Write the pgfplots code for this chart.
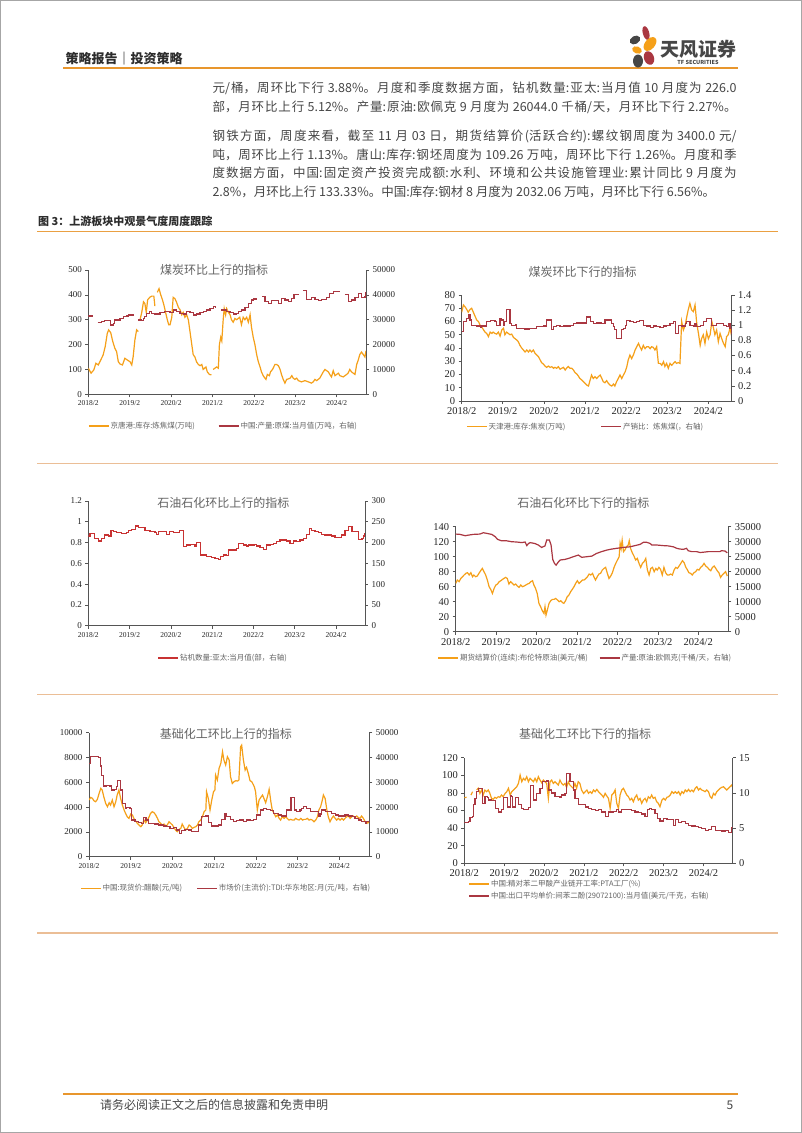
\documentclass[border=0pt]{standalone}
\usepackage{fontspec}
\usepackage{pgfplots}
\pgfplotsset{compat=1.18}
\setmainfont{Liberation Serif}
\newfontfamily\cjk{Noto Sans CJK SC}

\definecolor{cOrange}{RGB}{245,160,25}
\definecolor{cMaroon}{RGB}{170,55,65}
\definecolor{cRed}{RGB}{200,50,50}
\definecolor{cAxis}{RGB}{85,85,85}
\definecolor{cTitle}{RGB}{100,100,100}
\definecolor{cText}{RGB}{70,70,70}
\definecolor{cHead}{RGB}{45,45,45}
\definecolor{cLine}{RGB}{232,150,45}
\definecolor{cSep}{RGB}{235,190,150}
\definecolor{cLogoGray}{RGB}{70,70,70}

\newcommand\legfont{\cjk\fontsize{7.5}{8}\selectfont\color{cTitle}}
\newcommand\titlefont{\cjk\fontsize{12}{14}\selectfont}
% one justified line of body text
\newcommand\bodyline[2]{\node[anchor=west, inner sep=0pt] at (212.3pt,#1) {\parbox{524pt}{%
  \cjk\fontsize{12.5}{15}\selectfont\color{cText}%
  \XeTeXlinebreaklocale "zh"\XeTeXlinebreakskip=0pt plus 2pt minus 0.3pt\relax
  \parfillskip=0pt\relax\noindent #2\par}};}
\newcommand\bodylast[2]{\node[anchor=west, inner sep=0pt] at (212.3pt,#1) {\parbox{524pt}{%
  \cjk\fontsize{12.5}{15}\selectfont\color{cText}\noindent #2\par}};}

\pgfplotsset{
  base/.style={scale only axis, anchor=south west, xmin=0,
    axis line style={cAxis, line width=0.9pt},
    tick style={cAxis, line width=0.7pt},
    major tick length=3pt, tick align=outside,
    scaled ticks=false,
    /pgf/number format/assume math mode=true,
    /pgf/number format/1000 sep={},
    ticklabel style={text=black!85},
    unbounded coords=jump},
  lax/.style={base, axis x line*=bottom, axis y line*=left,
    xtick={0,12,24,36,48,60,72},
    xticklabels={2018/2,2019/2,2020/2,2021/2,2022/2,2023/2,2024/2},
    legend style={draw=none, fill=none, font=\legfont, inner sep=0pt,
      nodes={inner sep=1pt}},
    legend cell align=left,
    legend image code/.code={\draw[##1, line width=1.6pt] (0pt,0pt) -- (20pt,0pt);}},
  rax/.style={base, axis x line=none, axis y line*=right},
  small/.style={yticklabel style={font=\fontsize{9}{10}\selectfont},
    xticklabel style={font=\fontsize{7.5}{8}\selectfont}},
  big/.style={ticklabel style={font=\fontsize{10.5}{11}\selectfont}},
  ser/.style={line width=1.2pt},
}

\begin{document}
\begin{tikzpicture}
\useasboundingbox (0pt,0pt) rectangle (802pt,-1133pt);
\fill[white] (0pt,0pt) rectangle (802pt,-1133pt);
\draw[gray!70, line width=1pt] (0.5pt,-0.5pt) rectangle (801.5pt,-1132.5pt);

% header
\node[anchor=west, inner sep=0pt, font=\cjk\bfseries\fontsize{13}{15}\selectfont, text=cHead] at (65.5pt,-58.3pt) {策略报告｜投资策略};
\draw[cLine, line width=2pt] (63pt,-68.3pt) -- (738pt,-68.3pt);
% logo
\fill[cMaroon, rotate around={15:(646pt,-33pt)}] (646pt,-33pt) ellipse (3.2pt and 7pt);
\fill[cOrange, rotate around={-40:(650pt,-44pt)}] (650pt,-44pt) ellipse (5pt and 8pt);
\fill[cLogoGray, rotate around={30:(635pt,-40pt)}] (635pt,-40pt) ellipse (5.5pt and 4pt);
\fill[cOrange, rotate around={-20:(637pt,-50pt)}] (637pt,-50pt) ellipse (5pt and 3.5pt);
\fill[cLogoGray] (638pt,-61pt) ellipse (5pt and 6.5pt);
\fill[cMaroon, rotate around={20:(649pt,-58pt)}] (649pt,-58pt) ellipse (5pt and 7pt);
\node[inner sep=0pt, font=\cjk\bfseries\fontsize{19}{20}\selectfont, text=cLogoGray] at (698.5pt,-49pt) {天风证券};
\node[inner sep=0pt, font=\cjk\bfseries\fontsize{5.5}{6}\selectfont, text=cLogoGray] at (698pt,-62.5pt) {TF SECURITIES};

% body text
\bodyline{-88.3pt}{元/桶，周环比下行 3.88\%。月度和季度数据方面，钻机数量:亚太:当月值 10 月度为 226.0}
\bodyline{-107.3pt}{部，月环比上行 5.12\%。产量:原油:欧佩克 9 月度为 26044.0 千桶/天，月环比下行 2.27\%。}
\bodyline{-136pt}{钢铁方面，周度来看，截至 11 月 03 日，期货结算价(活跃合约):螺纹钢周度为 3400.0 元/}
\bodyline{-155pt}{吨，周环比上行 1.13\%。唐山:库存:钢坯周度为 109.26 万吨，周环比下行 1.26\%。月度和季}
\bodyline{-173.3pt}{度数据方面，中国:固定资产投资完成额:水利、环境和公共设施管理业:累计同比 9 月度为}
\bodylast{-192.3pt}{2.8\%，月环比上行 133.33\%。中国:库存:钢材 8 月度为 2032.06 万吨，月环比下行 6.56\%。}

% caption and separators
\node[anchor=west, inner sep=0pt, font=\cjk\bfseries\fontsize{11}{12}\selectfont, text=cHead] at (38pt,-221.7pt) {图 3：上游板块中观景气度周度跟踪};
\draw[cLine!90, line width=1.5pt] (37pt,-231.7pt) -- (778pt,-231.7pt);
\draw[cSep, line width=1.5pt] (37pt,-463.3pt) -- (778pt,-463.3pt);
\draw[cSep, line width=1.5pt] (37pt,-694.3pt) -- (778pt,-694.3pt);
\draw[cSep, line width=1.5pt] (37pt,-933pt) -- (778pt,-933pt);

% footer
\draw[cLine, line width=2pt] (63pt,-1094.3pt) -- (738pt,-1094.3pt);
\node[anchor=west, inner sep=0pt, font=\cjk\fontsize{12}{14}\selectfont, text=cText] at (100pt,-1105pt) {请务必阅读正文之后的信息披露和免责申明};
\node[inner sep=0pt, font=\cjk\fontsize{12}{14}\selectfont, text=cText] at (730pt,-1105pt) {5};

% titles
\node[font=\titlefont, text=cTitle] at (214pt,-270pt) {煤炭环比上行的指标};
\node[font=\titlefont, text=cTitle] at (582.5pt,-271.7pt) {煤炭环比下行的指标};
\node[font=\titlefont, text=cTitle] at (223.3pt,-502.7pt) {石油石化环比上行的指标};
\node[font=\titlefont, text=cTitle] at (583.3pt,-503.3pt) {石油石化环比下行的指标};
\node[font=\titlefont, text=cTitle] at (225.8pt,-734pt) {基础化工环比上行的指标};
\node[font=\titlefont, text=cTitle] at (585pt,-734pt) {基础化工环比下行的指标};

%================ chart 1
\begin{axis}[lax, small, at={(88.3pt,-394.3pt)}, width=277.7pt, height=124.3pt,
  xmax=80.5, ymin=0, ymax=500, ytick={0,100,200,300,400,500},
  legend columns=2, legend style={at={(axis description cs:0.485,-0.253)}, anchor=center,
    /tikz/every even column/.append style={column sep=22pt}}]
\addplot[cOrange, ser] coordinates {
(0,105)(0.8,85)(1.6,98)(2.2,125)(2.9,118)(3.6,138)(4.3,158)(4.9,192)(5.5,245)(5.9,259)(6.5,248)(7.1,212)(7.7,185)(8.2,172)(8.7,131)(9.2,122)(9.9,118)(10.6,145)(11.3,138)(12.1,131)(12.6,118)(13.0,151)(13.5,218)(14.0,259)(14.5,252)(14.7,nan)
(15.0,300)(15.5,330)(16.0,372)(16.4,365)(16.8,330)(17.2,380)(17.8,390)(18.4,395)(19.0,395)(19.3,355)(19.6,nan)
(20.0,410)(20.5,425)(21.0,400)(21.5,380)(21.9,360)(22.4,330)(22.9,300)(23.3,280)(23.7,280)(24.2,310)(24.6,390)(25.1,385)(25.6,370)(26.1,350)(26.6,340)(27.1,320)(27.5,330)(28.0,310)(28.5,320)(29.0,300)(29.5,250)(30.0,200)(30.4,160)(30.9,150)(31.4,130)(31.9,120)(32.4,115)(32.9,120)(33.3,100)(34.1,110)(34.5,90)(35.1,80)(35.7,78)(36.0,nan)
(36.2,100)(37.2,110)(37.7,105)(38.0,200)(38.4,230)(38.7,215)(39.1,300)(39.4,345)(39.8,320)(40.1,345)(40.6,330)(41.1,320)(41.5,300)(42.0,290)(42.5,305)(43.0,300)(43.9,310)(44.4,280)(44.9,310)(45.4,300)(45.9,310)(46.4,290)(46.9,320)(47.3,270)(47.8,230)(48.3,200)(48.8,160)(49.3,130)(49.8,110)(50.2,90)(50.7,75)(51.2,65)(51.5,60)(51.9,80)(52.5,75)(52.8,90)(53.4,100)(54.1,120)(54.6,120)(55.1,115)(55.6,100)(56.0,80)(56.5,60)(57.0,45)(57.5,60)(58.0,62)(58.5,65)(59.0,75)(59.4,65)(59.9,60)(60.4,65)(60.9,55)(61.8,50)(62.8,55)(63.8,50)(64.7,45)(65.2,50)(65.7,60)(66.2,55)(67.1,65)(68.1,90)(68.6,100)(69.1,95)(69.6,90)(70.0,80)(70.5,70)(71.0,95)(71.5,75)(72.5,85)(72.9,75)(73.9,70)(74.9,80)(75.3,85)(75.8,100)(76.3,90)(76.8,85)(77.3,80)(77.8,120)(78.3,140)(78.7,160)(79.2,170)(79.7,160)(80.2,150)(80.5,175)};
\addlegendentry{京唐港:库存:炼焦煤(万吨)}
\addlegendimage{cMaroon}
\addlegendentry{中国:产量:原煤:当月值(万吨，右轴)}
\end{axis}
\begin{axis}[rax, small, at={(88.3pt,-394.3pt)}, width=277.7pt, height=124.3pt,
  xmax=80.5, ymin=0, ymax=50000, ytick={0,10000,20000,30000,40000,50000}]
\addplot[cMaroon, ser, const plot] coordinates {
(0,31500)(1.3,31500)(1.5,nan)(2.7,29000)(3.9,29200)(4.8,29600)(6.1,29600)(6.5,27900)(7.2,28500)(7.7,29900)(9.2,30500)(10.1,31200)(11.1,31500)(11.6,31900)(13.0,32200)(13.5,nan)(14.5,29900)(15.5,29600)(15.9,30500)(16.4,31200)(16.9,32600)(17.7,33200)(18.4,32600)(19.3,32300)(20.8,32800)(22.2,33200)(23.7,33000)(24.6,33900)(25.6,33200)(26.6,32600)(27.5,32300)(28.5,33200)(29.5,33000)(30.4,31900)(31.4,32300)(32.4,32800)(33.3,33200)(34.3,33900)(35.3,34600)(36.2,35200)(36.9,35000)(37.5,nan)(38.6,33900)(40.1,33200)(41.1,33000)(42.0,32300)(43.0,32600)(43.5,33200)(44.4,33900)(45.4,35000)(46.4,36600)(47.3,37900)(48.0,38300)(49.0,38300)(49.5,nan)(50.4,39500)(51.2,37300)(52.2,36600)(53.1,37700)(54.1,37600)(55.1,36600)(56.0,38600)(57.0,37900)(58.0,37300)(58.9,38600)(59.6,40000)(60.4,40200)(61.2,40200)(61.6,nan)(62.3,41700)(63.3,38200)(64.7,38900)(65.7,38200)(66.7,37700)(67.6,38200)(69.1,38900)(70.0,40600)(71.0,41300)(72.9,41300)(73.5,nan)(74.4,40300)(75.4,37300)(76.3,37900)(77.3,39000)(78.3,40600)(79.2,39000)(80.2,39200)(80.5,41300)};
\end{axis}

%================ chart 2
\begin{axis}[lax, big, at={(461.7pt,-401pt)}, width=270pt, height=106pt,
  xmax=78.8, ymin=0, ymax=80, ytick={0,10,20,30,40,50,60,70,80},
  legend columns=2, legend style={at={(axis description cs:0.457,-0.242)}, anchor=center,
    /tikz/every even column/.append style={column sep=34pt}}]
\addplot[cOrange, ser] coordinates {
(0,67)(0.5,72.5)(1.0,71)(1.5,69)(1.9,67)(2.4,69)(2.9,70)(3.4,67)(3.9,64)(4.4,61)(4.9,60)(5.4,57)(5.8,56)(6.3,54)(6.8,52)(7.3,51)(7.8,48.6)(8.3,52)(8.8,51)(9.2,52)(9.7,51)(10.2,50.5)(10.7,52)(11.2,49)(11.7,53.6)(12.2,55)(12.6,50)(13.1,52)(13.6,51)(14.1,50)(14.6,50.5)(15.1,48)(15.6,47)(16.1,46)(16.5,44.8)(17.0,42)(17.5,40)(18.0,38.5)(18.5,37)(19.0,38.5)(19.5,37)(19.9,38.5)(20.4,37)(20.9,38.5)(21.4,36)(21.9,34.7)(22.4,33.5)(22.9,31)(23.3,29)(23.8,28)(24.3,26.4)(24.8,25.4)(25.3,26.4)(25.8,25.4)(26.3,25.9)(26.8,24.7)(27.2,25.4)(27.7,24.7)(28.2,25.9)(28.7,24)(29.2,24.7)(29.7,25.4)(30.2,23.4)(30.6,24.7)(31.1,26)(31.6,24.7)(32.1,24.7)(32.6,23.4)(33.1,21.4)(33.6,20.4)(34.0,19)(34.5,17)(35.0,16)(35.5,14.6)(36.0,13.3)(36.5,12)(37.0,11.3)(37.5,16)(37.9,19.6)(38.4,17)(38.9,18.4)(39.4,17)(39.9,18.4)(40.4,19.6)(40.9,17)(41.3,14.6)(41.8,13.8)(42.3,15.4)(42.8,13.3)(43.3,12)(43.8,11.3)(44.3,12.8)(44.7,11.3)(45.2,14.6)(45.7,17)(46.2,19.6)(46.7,17)(47.2,19.6)(47.7,22)(48.2,26)(48.6,31)(49.1,34.7)(49.6,32)(50.1,34.7)(50.6,38.5)(51.1,41)(51.6,43.5)(52.0,41)(52.5,38.5)(53.0,42)(53.5,39.5)(54.0,41)(54.5,41)(55.0,39.5)(55.4,41)(55.9,40.5)(56.4,38.5)(56.9,41)(57.4,28.4)(57.9,28.4)(58.4,27)(58.9,29.7)(59.3,26)(59.8,28.4)(60.3,24.7)(60.8,28.4)(61.3,27)(61.8,28.4)(62.3,29.7)(62.7,28.4)(63.2,29)(63.7,28.4)(64.2,60)(64.7,53.6)(65.2,57)(65.7,63.7)(66.1,68.7)(66.6,73.7)(67.1,68.7)(67.6,67.4)(68.1,72.5)(68.6,58.6)(69.1,51)(69.6,42)(70.0,47)(70.5,50)(71.0,43.5)(71.5,52)(72.0,47)(72.5,50)(73.0,60)(73.4,56)(73.9,50)(74.4,53.6)(74.9,44.8)(75.4,51)(75.9,47)(76.4,43.5)(76.9,41)(77.3,48.6)(77.8,50)(78.3,55)(78.8,48.6)};
\addlegendentry{天津港:库存:焦炭(万吨)}
\addlegendimage{cMaroon}
\addlegendentry{产销比：炼焦煤(，右轴)}
\end{axis}
\begin{axis}[rax, big, at={(461.7pt,-401pt)}, width=270pt, height=106pt,
  xmax=78.8, ymin=0, ymax=1.4, ytick={0,0.2,0.4,0.6,0.8,1,1.2,1.4}]
\addplot[cMaroon, ser, const plot] coordinates {
(0,0.915)(0.5,1.05)(1.5,1.09)(1.9,1.14)(2.4,1.07)(2.9,1.0)(4.4,0.99)(5.4,0.97)(5.8,0.99)(6.8,0.98)(7.3,1.05)(8.3,1.06)(9.7,1.05)(10.2,1.0)(11.2,1.09)(11.7,1.07)(12.2,1.0)(12.6,1.05)(13.1,1.21)(13.9,1.21)(14.1,1.02)(14.6,1.0)(15.6,1.01)(16.1,0.96)(18.5,0.95)(19.9,0.96)(21.9,0.98)(23.8,0.99)(24.8,1.07)(25.8,1.07)(26.3,0.94)(26.8,0.98)(27.7,1.0)(28.7,0.98)(29.7,0.99)(30.6,0.99)(31.6,1.0)(32.6,1.02)(33.6,1.03)(34.5,1.03)(36.5,1.11)(37.5,1.05)(38.4,1.02)(39.4,1.03)(40.9,1.02)(41.8,1.07)(43.3,1.08)(43.8,1.02)(44.3,0.98)(44.7,0.94)(45.2,0.83)(46.2,0.83)(46.7,0.94)(47.2,0.96)(47.7,1.0)(48.2,1.06)(49.1,1.05)(50.1,1.04)(51.1,1.05)(52.0,1.06)(53.0,1.0)(54.0,0.99)(55.0,0.97)(55.9,0.99)(56.9,0.98)(57.9,0.97)(58.9,0.99)(59.8,1.0)(60.8,1.02)(61.8,1.05)(62.3,0.89)(62.7,0.89)(63.2,1.0)(64.2,0.99)(65.2,1.02)(65.7,1.05)(66.6,1.0)(67.6,0.98)(68.1,1.02)(68.6,0.98)(69.6,1.0)(70.5,1.05)(71.5,1.09)(72.5,1.09)(73.0,1.0)(74.4,1.02)(75.4,1.02)(76.4,1.0)(77.3,0.98)(77.8,1.02)(78.3,0.96)(78.8,0.89)};
\end{axis}

%================ chart 3
\begin{axis}[lax, small, at={(88.3pt,-625.7pt)}, width=276.7pt, height=124.7pt,
  xmax=80.4, ymin=0, ymax=1.2, ytick={0,0.2,0.4,0.6,0.8,1,1.2},
  legend style={at={(axis description cs:0.486,-0.257)}, anchor=center}]
\addlegendimage{cRed}
\addlegendentry{钻机数量:亚太:当月值(部，右轴)}
\end{axis}
\begin{axis}[rax, small, at={(88.3pt,-625.7pt)}, width=276.7pt, height=124.7pt,
  xmax=80.4, ymin=0, ymax=300, ytick={0,50,100,150,200,250,300}]
\addplot[cRed, ser, const plot] coordinates {
(0,216)(0.5,222)(1.5,222)(1.9,210)(2.9,204)(3.9,210)(4.6,218)(5.8,216)(6.6,228.6)(7.3,226)(8.2,224)(9.7,222)(11.1,224)(11.6,230)(12.6,232)(13.6,240)(14.5,237)(15.5,237)(16.5,228.6)(17.9,226)(19.4,224)(19.9,220)(20.3,226)(21.8,226)(22.8,220)(23.7,226)(24.7,224)(25.7,224)(26.6,230)(27.4,230)(27.6,190)(28.6,194)(29.6,196)(30.5,196)(31.0,192)(31.5,200)(32.0,200)(32.5,170)(33.4,170)(34.4,166)(35.9,164)(36.8,162)(37.8,160)(38.3,166)(39.2,170)(40.2,168)(40.7,182)(42.2,182)(43.1,186)(43.6,198)(45.1,194)(46.0,192)(46.5,194)(47.5,194)(48.4,196)(48.9,192)(49.9,188)(50.9,184)(51.8,194)(52.8,196)(53.8,198)(54.7,202)(55.7,206)(56.7,206)(57.7,204)(58.6,198)(59.6,204)(60.6,202)(61.5,206)(62.5,210)(63.5,220)(64.2,234)(64.9,230)(65.9,226)(66.9,224)(67.8,220)(68.8,218)(69.8,218)(70.7,216)(71.7,212)(72.7,212)(73.6,218)(74.6,228.6)(75.6,238)(76.6,226)(77.5,226)(78.5,208)(79.5,210)(79.9,216)(80.4,222)};
\end{axis}

%================ chart 4
\begin{axis}[lax, big, at={(455.7pt,-631.7pt)}, width=272.6pt, height=105pt,
  xmax=80.9, ymin=0, ymax=140, ytick={0,20,40,60,80,100,120,140},
  legend columns=2, legend style={at={(axis description cs:0.474,-0.25)}, anchor=center,
    /tikz/every even column/.append style={column sep=10pt}}]
\addplot[cOrange, ser] coordinates {
(0,64.4)(0.5,68.9)(1.0,66.7)(1.5,71)(2.0,73.3)(2.5,75.6)(3.0,77.8)(3.5,78.7)(4.0,75.6)(4.5,78.7)(5.0,73.3)(5.4,75.6)(5.9,73.3)(6.4,74.2)(6.9,77.8)(7.4,81.3)(7.9,84.4)(8.4,80)(8.9,75.6)(9.4,68.9)(9.9,60)(10.4,56.4)(10.9,51)(11.4,57.8)(11.9,62.2)(12.4,63.6)(12.9,66.7)(13.4,68)(13.9,69.8)(14.3,71)(14.8,72.4)(15.3,71)(15.8,63.6)(16.3,66.7)(16.8,64.4)(17.3,62.2)(17.8,63.6)(18.3,60.9)(18.8,59.1)(19.3,62.2)(19.8,60)(20.3,60.9)(20.8,62.2)(21.3,63.6)(21.8,64.4)(22.3,66.7)(22.8,68)(23.2,62.2)(23.7,57.8)(24.2,51)(24.7,37.8)(25.2,33.3)(25.7,28)(26.2,24.4)(26.5,33.3)(26.8,22.2)(27.2,28.9)(27.7,37.8)(28.2,41.3)(28.7,43.1)(29.2,43.1)(29.7,44.4)(30.2,42.2)(30.7,40)(31.2,41.3)(31.7,38.7)(32.1,37.8)(32.6,41.3)(33.1,46.7)(33.6,48.9)(34.1,53.3)(34.6,56.4)(35.1,60)(35.6,64.4)(36.1,68)(36.6,64.4)(37.1,66.7)(37.6,68.9)(38.1,68.9)(38.6,71)(39.1,73.3)(39.6,76.9)(40.1,75.6)(40.6,77.8)(41.0,73.3)(41.5,68.9)(42.0,73.3)(42.5,76.9)(43.0,77.8)(43.5,82.2)(44.0,84.4)(44.5,85.8)(45.0,77.8)(45.5,71)(46.0,74.2)(46.5,78.7)(47.0,85.8)(47.5,91.1)(48.0,95.6)(48.5,100)(48.8,117.8)(49.1,111)(49.4,122)(49.8,106.7)(50.2,108.9)(50.7,113.3)(51.2,115.6)(51.5,121.3)(51.9,111)(52.4,105.3)(52.9,100.9)(53.4,95.6)(53.9,97.8)(54.4,91.1)(54.9,85.8)(55.4,91.1)(55.9,93.3)(56.4,97.8)(56.9,82.2)(57.4,75.6)(57.9,84.4)(58.4,85.8)(58.9,80)(59.4,84.4)(59.8,82.2)(60.3,85.8)(60.8,83.1)(61.3,75.6)(61.8,85.8)(62.3,78.7)(62.8,75.6)(63.3,75.6)(63.8,76.9)(64.3,75.6)(64.8,82.2)(65.3,85.8)(65.8,84.4)(66.3,87.6)(66.8,91.1)(67.3,94.7)(67.8,92)(68.3,85.8)(68.7,83.1)(69.2,78.7)(69.7,77.8)(70.2,75.6)(70.7,78.7)(71.2,80)(71.7,83.1)(72.2,82.2)(72.7,85.8)(73.2,87.6)(73.7,91.1)(74.2,87.6)(74.7,85.8)(75.2,83.1)(75.7,81.3)(76.2,85.8)(76.7,87.6)(77.2,84.4)(77.6,81.3)(78.1,78.7)(78.6,72.4)(79.1,75.6)(79.6,77.8)(80.1,80)(80.6,74.2)};
\addlegendentry{期货结算价(连续):布伦特原油(美元/桶)}
\addlegendimage{cMaroon}
\addlegendentry{产量:原油:欧佩克(千桶/天，右轴)}
\end{axis}
\begin{axis}[rax, big, at={(455.7pt,-631.7pt)}, width=272.6pt, height=105pt,
  xmax=80.9, ymin=0, ymax=35000, ytick={0,5000,10000,15000,20000,25000,30000,35000}]
\addplot[cMaroon, ser] coordinates {
(0,32550)(1.3,32440)(2.8,32000)(3.8,32200)(5.2,32440)(7.2,32550)(8.2,33000)(9.2,32780)(10.7,32440)(11.7,31700)(12.4,30800)(13.6,30300)(15.1,30300)(16.6,30000)(18.1,29900)(19.6,29700)(20.6,29900)(21.1,28700)(21.6,29400)(22.1,29700)(23.5,29400)(24.5,28900)(25.5,28100)(26.5,28600)(27.0,30550)(27.8,30550)(28.3,28900)(28.8,24100)(29.3,22800)(29.8,22200)(30.5,23300)(31.0,23900)(32.4,24100)(33.4,24400)(34.9,25000)(36.4,25550)(37.4,24800)(38.9,25000)(40.4,25200)(41.8,26100)(43.3,26700)(44.8,27200)(46.3,27550)(47.8,27800)(49.8,28100)(51.7,28300)(53.2,28700)(54.7,29100)(55.7,29800)(56.7,29800)(57.7,29400)(58.2,28900)(59.6,28900)(61.6,28700)(63.1,28600)(64.6,28300)(65.6,27800)(66.6,27550)(67.6,27450)(68.5,27800)(69.0,27000)(70.0,26700)(71.5,26700)(72.5,26400)(73.5,26500)(75.0,26700)(76.5,26700)(78.4,26700)(78.9,27000)(79.9,26900)(80.6,26300)};
\end{axis}

%================ chart 5
\begin{axis}[lax, small, at={(89pt,-856.7pt)}, width=280.3pt, height=124pt,
  xmax=80.6, ymin=0, ymax=10000, ytick={0,2000,4000,6000,8000,10000},
  legend columns=2, legend style={at={(axis description cs:0.487,-0.255)}, anchor=center,
    /tikz/every even column/.append style={column sep=13pt}}]
\addplot[cOrange, ser] coordinates {
(0,4570)(0.5,4785)(1.0,4700)(1.4,4515)(1.9,4435)(2.4,4620)(2.9,5100)(3.4,5510)(3.8,5375)(4.3,4785)(4.8,4300)(5.3,4030)(5.8,4355)(6.2,4165)(6.7,4570)(7.2,4030)(7.7,4435)(8.1,4975)(8.6,5375)(9.1,4700)(9.6,4165)(10.1,3765)(10.5,3495)(11.0,3225)(11.5,3090)(12.0,3440)(12.5,3360)(12.9,3090)(13.4,2900)(13.9,2690)(14.4,2555)(14.9,2420)(15.3,2555)(15.8,2955)(16.3,2740)(16.8,2955)(17.3,3225)(17.7,3495)(18.2,3630)(18.7,3550)(19.2,3360)(19.7,3090)(20.1,2820)(20.6,2690)(21.1,2555)(21.6,2635)(22.1,2470)(22.5,2555)(23.0,2820)(23.5,2690)(24.0,2555)(24.4,2365)(24.9,2150)(25.4,2015)(25.9,2200)(26.4,2285)(26.8,2635)(27.3,2365)(27.8,2150)(28.3,2285)(28.8,2555)(29.2,2470)(29.7,2285)(30.2,2365)(30.7,2420)(31.2,2555)(31.6,2820)(32.1,2955)(32.6,3225)(33.1,3630)(33.6,3765)(33.8,5240)(34.3,4700)(34.8,3765)(35.3,4570)(35.8,5240)(36.2,5375)(36.4,6585)(36.9,6180)(37.4,7125)(37.9,7525)(38.4,8465)(38.8,7795)(39.3,7390)(39.8,8065)(40.3,7795)(40.7,6450)(41.2,5910)(41.7,6050)(42.2,6130)(42.7,6100)(43.1,6180)(43.6,8870)(43.9,9000)(44.4,7795)(44.9,6990)(45.3,7200)(45.8,6720)(46.3,6130)(46.8,6050)(47.3,5780)(47.6,5590)(47.9,5240)(48.4,3765)(48.9,4570)(49.4,4785)(49.9,4975)(50.3,4700)(50.8,4355)(51.3,4840)(51.8,5430)(52.3,4435)(52.7,3765)(53.2,3495)(53.7,3225)(54.2,3360)(54.7,3090)(55.1,2955)(55.6,3225)(56.1,3090)(56.6,3225)(57.0,3090)(57.5,2955)(58.0,3010)(58.5,2955)(59.0,2955)(59.4,3090)(59.9,3010)(60.4,2955)(60.9,3090)(61.4,2955)(61.8,3010)(62.3,3010)(62.8,3090)(63.3,2955)(63.8,3010)(64.2,2955)(64.7,2820)(65.2,2955)(65.7,3225)(66.1,3765)(66.6,4030)(67.1,4570)(67.4,4975)(67.9,4700)(68.4,3765)(68.8,3225)(69.3,2820)(69.8,3090)(70.3,3280)(70.8,3090)(71.2,2955)(71.7,3090)(72.2,2955)(72.7,3090)(73.2,2955)(73.6,3090)(74.1,3225)(74.6,3280)(75.1,3090)(75.6,3225)(76.0,3280)(76.5,3170)(77.0,3280)(77.4,3170)(77.9,3090)(78.4,3280)(78.9,3090)(79.4,2820)(79.9,2690)(80.4,2820)(80.6,2690)};
\addlegendentry{中国:现货价:醋酸(元/吨)}
\addlegendimage{cMaroon}
\addlegendentry{市场价(主流价):TDI:华东地区:月(元/吨，右轴)}
\end{axis}
\begin{axis}[rax, small, at={(89pt,-856.7pt)}, width=280.3pt, height=124pt,
  xmax=80.6, ymin=0, ymax=50000, ytick={0,10000,20000,30000,40000,50000}]
\addplot[cMaroon, ser, const plot] coordinates {
(0,37600)(0.5,40300)(2.2,40300)(2.7,40000)(3.2,36550)(3.6,32900)(4.1,28500)(5.1,28750)(6.0,28500)(6.5,26900)(7.2,27150)(7.8,28200)(8.1,30600)(8.7,30600)(9.1,26900)(9.6,21500)(10.4,19500)(10.8,19900)(11.3,19900)(11.8,19500)(12.3,14800)(13.2,14100)(14.2,13700)(15.1,13400)(15.6,15900)(16.4,14800)(17.1,13400)(18.5,13400)(19.0,13200)(19.9,12800)(21.4,12400)(22.3,12100)(23.3,11400)(24.3,11800)(25.2,10750)(26.0,9400)(26.7,10500)(27.6,11000)(28.6,10750)(29.5,10100)(30.5,10100)(31.4,12800)(32.4,16100)(33.4,16400)(34.3,13700)(35.3,12400)(36.2,12400)(37.2,12800)(38.2,15050)(39.1,17500)(39.6,16100)(40.6,15050)(41.5,14100)(42.5,14500)(43.4,14800)(44.4,14100)(45.3,14800)(46.3,14500)(47.3,15050)(48.2,16800)(49.2,18800)(50.1,19500)(51.1,19100)(52.1,18550)(53.0,17500)(54.5,16800)(55.4,16400)(56.4,16100)(56.9,18800)(57.8,18800)(58.1,23900)(58.8,23900)(59.1,18800)(59.7,18100)(60.7,18800)(61.2,19500)(61.6,20200)(62.6,19500)(63.6,18100)(65.0,18100)(66.0,16400)(66.4,17200)(66.9,18800)(67.9,18100)(68.8,18100)(69.8,17500)(70.8,16800)(71.7,16400)(72.7,16400)(73.6,16800)(74.6,16400)(75.6,16100)(76.5,15450)(77.4,14800)(78.4,14100)(79.4,13400)(79.9,14100)(80.6,13700)};
\end{axis}

%================ chart 6
\begin{axis}[lax, big, at={(464.3pt,-863.3pt)}, width=268.4pt, height=105.6pt,
  xmax=80.8, ymin=0, ymax=120, ytick={0,20,40,60,80,100,120},
  legend columns=1, legend style={at={(axis description cs:0.015,-0.253)}, anchor=west,
    row sep=2pt}]
\addplot[cOrange, ser] coordinates {
(0,74.6)(0.7,75)(1.0,nan)(2.0,77.6)(2.5,81.4)(3.0,nan)(3.7,83.3)(4.2,85.2)(4.7,79.5)(5.2,83.3)(5.7,77.6)(6.2,83.3)(6.7,81.4)(7.2,83.3)(7.7,79.5)(8.2,73.8)(8.7,72.7)(9.2,75)(9.7,73.8)(10.2,75.7)(10.7,75)(11.2,77.6)(11.7,75.7)(12.3,79.5)(12.8,81.4)(13.3,85.2)(13.8,77.6)(14.3,81.4)(14.8,83.3)(15.3,85.2)(15.8,87)(16.3,90.8)(16.8,100.3)(17.3,92.7)(17.8,96.5)(18.3,94.6)(18.8,98.4)(19.3,92.7)(19.8,96.5)(20.3,94.6)(20.8,92.7)(21.3,96.5)(21.8,92.7)(22.3,98.4)(22.8,94.6)(23.3,91.6)(23.8,94.6)(24.3,92.7)(24.8,90.8)(25.3,73.8)(25.8,92.7)(26.3,94.6)(26.8,90.8)(27.3,92.7)(27.8,90.8)(28.3,88.9)(28.8,94.6)(29.3,90.8)(29.8,88.9)(30.3,90.8)(30.8,86.3)(31.3,92.7)(31.8,88.9)(32.3,87)(32.8,85.2)(33.3,90.8)(33.8,85.2)(34.3,92.7)(34.8,90.8)(35.3,83.3)(35.9,79.5)(36.4,81.4)(36.9,83.3)(37.4,79.5)(37.9,81.4)(38.4,79.5)(38.9,83.3)(39.4,81.4)(39.9,84)(40.4,81.4)(40.9,79.5)(41.4,77.6)(41.9,75)(42.4,79.5)(42.9,76.5)(43.4,73.8)(43.9,62.4)(44.4,77.6)(44.9,79.5)(45.4,83.3)(45.9,68.1)(46.4,62.4)(46.9,77.6)(47.4,83.3)(47.9,85.2)(48.4,81.4)(48.9,77.6)(49.4,75.7)(49.9,71.9)(50.4,73.8)(50.9,70)(51.4,75)(51.9,77.6)(52.4,71.9)(52.9,73.8)(53.4,68.1)(53.9,71.9)(54.4,73.8)(54.9,70)(55.4,75.7)(55.9,73.8)(56.4,77.6)(56.9,73.8)(57.4,75)(57.9,70)(58.4,68.1)(58.9,64.3)(59.5,71.9)(60.0,73.8)(60.5,71.9)(61.0,75)(61.5,75.7)(62.0,77.6)(62.5,81.4)(63.0,79.5)(63.5,81.4)(64.0,79.5)(64.5,81.4)(65.0,77.6)(65.5,81.4)(66.0,79.5)(66.5,83.3)(67.0,81.4)(67.5,84)(68.0,81.4)(68.5,83.3)(69.0,81.4)(69.5,85.2)(70.0,87)(70.5,83.3)(71.0,85.2)(71.5,83.3)(72.0,82.5)(72.5,81.4)(73.0,83.3)(73.5,81.4)(74.0,75.7)(74.5,73.8)(75.0,79.5)(75.5,77.6)(76.0,81.4)(76.5,83.3)(77.0,85.2)(77.5,86.3)(78.0,87)(78.5,85.2)(79.0,83.3)(79.5,85.2)(80.0,87)(80.5,88.9)(80.8,86.3)};
\addlegendentry{中国:精对苯二甲酸产业链开工率:PTA工厂(\%)}
\addlegendimage{cMaroon}
\addlegendentry{中国:出口平均单价:间苯二酚(29072100):当月值(美元/千克，右轴)}
\end{axis}
\begin{axis}[rax, big, at={(464.3pt,-863.3pt)}, width=268.4pt, height=105.6pt,
  xmax=80.8, ymin=0, ymax=15, ytick={0,5,10,15}]
\addplot[cMaroon, ser, const plot] coordinates {
(0,5.77)(1.2,5.9)(1.7,6.5)(2.5,6.6)(2.7,8.3)(3.2,9.2)(3.7,10.2)(4.2,10.6)(5.2,10.6)(5.5,8.5)(6.2,9.5)(6.9,9.4)(7.2,9.0)(8.2,8.9)(9.2,8.9)(9.5,7.8)(10.2,7.3)(11.2,7.6)(11.7,9.4)(12.8,9.4)(13.1,8.0)(13.8,9.6)(14.3,9.5)(14.6,8.0)(15.3,9.4)(16.0,9.4)(16.3,8.3)(17.3,7.8)(17.8,7.6)(18.8,7.7)(19.3,7.95)(20.0,11.1)(20.6,11.1)(20.8,9.0)(21.6,9.0)(21.8,9.9)(22.8,10.6)(23.6,11.6)(24.8,11.7)(25.3,10.4)(26.3,10.0)(27.3,9.5)(28.8,9.4)(29.3,9.7)(30.3,9.9)(30.8,12.8)(31.6,12.8)(31.8,11.6)(32.8,10.4)(33.3,9.2)(34.3,8.4)(35.3,8.3)(36.4,8.0)(37.4,7.8)(38.4,7.6)(39.4,7.5)(40.4,7.7)(41.4,7.3)(42.4,6.7)(43.4,7.3)(44.9,7.4)(45.9,7.6)(46.4,7.3)(47.4,7.6)(48.4,7.7)(49.4,7.6)(50.4,7.5)(51.4,7.3)(52.4,7.2)(53.4,7.0)(54.4,6.7)(55.1,7.6)(55.7,7.8)(56.4,7.6)(57.4,7.1)(58.1,6.4)(58.9,6.0)(60.0,6.4)(61.0,6.2)(62.0,6.2)(63.0,5.4)(63.5,6.2)(64.5,5.8)(65.5,5.9)(66.5,5.7)(67.5,5.4)(68.5,5.3)(69.5,5.2)(70.5,5.1)(71.5,5.0)(72.5,4.7)(73.5,4.8)(74.5,5.2)(75.5,4.7)(76.5,4.7)(77.5,4.6)(78.5,4.7)(79.5,4.35)(80.5,5.1)(80.8,5.0)};
\end{axis}
\end{tikzpicture}
\end{document}
